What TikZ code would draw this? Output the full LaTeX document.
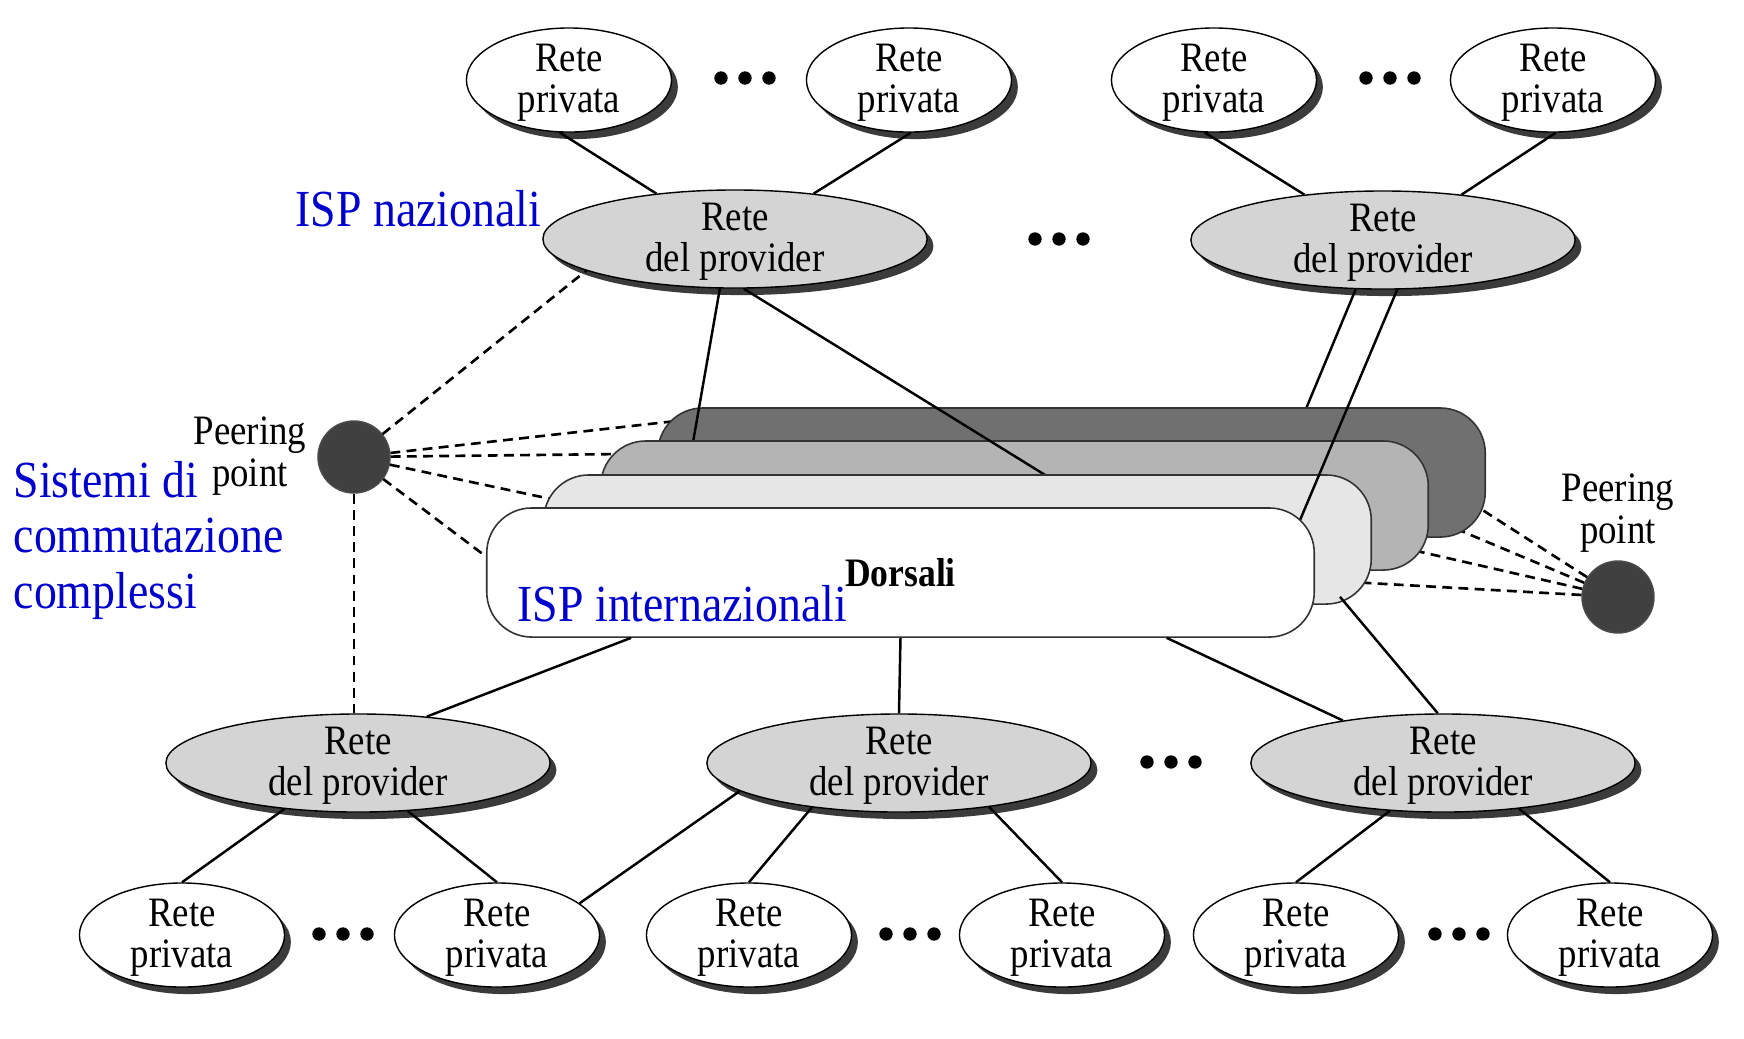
\documentclass[tikz,border=0pt]{standalone}
\usepackage{fontspec}
\setmainfont[FakeStretch=0.88]{Liberation Serif}
\usetikzlibrary{shapes.geometric,shadows,calc}
\definecolor{ispblue}{RGB}{0,0,205}
\definecolor{provgray}{RGB}{212,212,212}
\definecolor{lay2}{RGB}{230,230,230}
\definecolor{lay3}{RGB}{180,180,180}
\definecolor{lay4}{RGB}{112,112,112}
\definecolor{peergray}{RGB}{64,64,64}
\newcommand\netfont{\fontsize{11.9pt}{11.8pt}\selectfont}
\newcommand\ispfont{\fontsize{14.8pt}{15.7pt}\selectfont}
\tikzset{privnet/.style={ellipse,draw,fill=white,minimum width=2.05cm,minimum height=1.04cm,inner sep=0pt,inner ysep=-1pt,align=center,font=\netfont,text height=19.3pt,text depth=0.7pt,drop shadow={shadow xshift=1.8pt,shadow yshift=-2pt,fill=black!85,opacity=.9}}}
\tikzset{provnet/.style={privnet,fill=provgray,minimum width=3.84cm,minimum height=0.98cm}}
\tikzset{backb/.style={draw=black!80,line width=0.45pt,rounded corners=0.45cm,minimum width=8.27cm,minimum height=1.29cm,inner sep=0pt}}
\tikzset{ppoint/.style={circle,draw=black!70,fill=peergray,minimum size=0.72cm,inner sep=0pt}}
\tikzset{link/.style={draw,line width=0.7pt}}
\tikzset{plink/.style={draw,line width=0.75pt,dash pattern=on 2.8pt off 1.8pt}}
\tikzset{isp/.style={text=ispblue,font=\ispfont,inner sep=0pt,align=left}}
\tikzset{plabel/.style={font=\netfont,inner sep=0pt,align=center}}

\begin{document}
\begin{tikzpicture}[x=0.01cm,y=-0.01cm]
    \useasboundingbox (0,0) rectangle (1744,1038);

    % reti private e ISP nazionali
    \node[privnet] (P1) at (569,80) {Rete\\privata};
    \node[privnet] (P2) at (909,80) {Rete\\privata};
    \node[privnet] (P3) at (1214,80) {Rete\\privata};
    \node[privnet] (P4) at (1553,80) {Rete\\privata};
    \node[provnet] (N1) at (735,239) {Rete\\del provider};
    \node[provnet] (N2) at (1383,240) {Rete\\del provider};

    \node[provnet] (B1) at (358,763) {Rete\\del provider};
    \node[provnet] (B2) at (899,763) {Rete\\del provider};
    \node[provnet] (B3) at (1443,763) {Rete\\del provider};
    \node[privnet] (Q1) at (182,935) {Rete\\privata};
    \node[privnet] (Q2) at (497,935) {Rete\\privata};
    \node[privnet] (Q3) at (749,935) {Rete\\privata};
    \node[privnet] (Q4) at (1062,935) {Rete\\privata};
    \node[privnet] (Q5) at (1296,935) {Rete\\privata};
    \node[privnet] (Q6) at (1610,935) {Rete\\privata};

    \node[ppoint] (PL) at (354,457) {};
    \node[ppoint] (PR) at (1618,597) {};

    \foreach \x/\y in {745/78,1390/78,1059/239,1171/762,343/934,910/934,1459/934}{
      \foreach \d in {-24,0,24}{
        \fill (\x+\d,\y) circle (1.9pt);
      }
    }

    \draw[link] (P1.-100) -- (N1.150);
    \draw[link] (P2.-88) -- (N1.30);
    \draw[link] (P3.-100) -- (N2.150);
    \draw[link] (P4.-87) -- (N2.30);

    % peering: i tratti finiscono sotto le dorsali
    \coordinate (d4) at (676,421);
    \coordinate (d3) at (622,454);
    \coordinate (d2) at (565,502);
    \coordinate (d1) at (500,567);
    \coordinate (e4) at (1470,502);
    \coordinate (e3) at (1440,522);
    \coordinate (e2) at (1408,549);
    \coordinate (e1) at (1350,582);
    \draw[plink] (PL) -- (N1.-168);
    \foreach \c in {d1,d2,d3,d4}{
      \draw[plink] (PL) -- (\c);
    }
    \foreach \c in {e1,e2,e3,e4}{
      \draw[plink] (PR) -- (\c);
    }
    \draw[plink] (PL) -- (PL |- B1.north);

    % dorsali
    \coordinate (na) at (692,448);
    \coordinate (nb) at (1050,478);
    \coordinate (nc) at (1295,532);
    \coordinate (nd) at (1303,416);
    \draw[link] (N2.-119) -- (nd);
    \node[backb,fill=lay4] (L4) at (1071.5,472.5) {};
    \draw[link] (N1.-107) -- (na);
    \node[backb,fill=lay3] (L3) at (1014.5,505.5) {};
    \draw[link] (N1.-80) -- (nb);
    \node[backb,fill=lay2] (L2) at (957.5,539.5) {};
    \draw[link] (N2.-74) -- (nc);
    \node[backb,fill=white,font=\fontsize{11.5pt}{12pt}\selectfont\bfseries] (L1) at (900.5,572.5) {Dorsali};

    \draw[link] ($(L1.south west)!0.175!(L1.south east)$) -- (B1.34);
    \draw[link] (L1.south) -- (B2.north);
    \draw[link] ($(L1.south west)!0.821!(L1.south east)$) -- (B3.157);
    \draw[link] ($(L2.south east)+(-32,-8)$) -- (B3.96);

    \draw[link] (B1.-148) -- (Q1.north);
    \draw[link] (B1.-44) -- (Q2.north);
    \draw[link] (B2.-170) -- (Q2.21);
    \draw[link] (B2.-153) -- (Q3.north);
    \draw[link] (B2.-26) -- (Q4.north);
    \draw[link] (B3.-138) -- (Q5.north);
    \draw[link] (B3.-31) -- (Q6.north);

    % etichette
    \node[plabel,anchor=base] (pl) at (250,486) {Peering\\point};
    \node[plabel,anchor=base] (pr) at (1618,543) {Peering\\point};
    \node[isp,anchor=base west] (tn) at (295,226) {ISP nazionali};
    \node[isp,anchor=base west] (ts) at (13,608) {Sistemi di\\commutazione\\complessi};
    \node[isp,anchor=base west] (ti) at (517,621) {ISP internazionali};
\end{tikzpicture}
\end{document}
